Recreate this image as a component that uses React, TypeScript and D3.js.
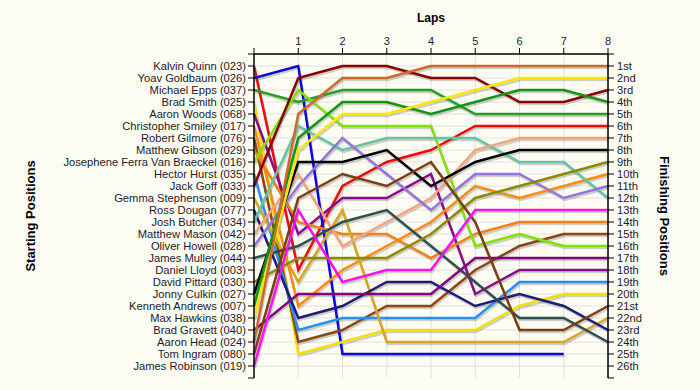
import React from "react";
import * as d3 from "d3";

const drivers = [
  "Kalvin Quinn (023)", "Yoav Goldbaum (026)", "Michael Epps (037)", "Brad Smith (025)",
  "Aaron Woods (068)", "Christopher Smiley (017)", "Robert Gilmore (076)", "Matthew Gibson (029)",
  "Josephene Ferra Van Braeckel (016)", "Hector Hurst (035)", "Jack Goff (033)", "Gemma Stephenson (009)",
  "Ross Dougan (077)", "Josh Butcher (034)", "Matthew Mason (042)", "Oliver Howell (028)",
  "James Mulley (044)", "Daniel Lloyd (003)", "David Pittard (030)", "Jonny Culkin (027)",
  "Kenneth Andrews (007)", "Max Hawkins (038)", "Brad Gravett (040)", "Aaron Head (024)",
  "Tom Ingram (080)", "James Robinson (019)",
];

const lapLabels = ["1", "2", "3", "4", "5", "6", "7", "8"];

const finishLabels = [
  "1st", "2nd", "3rd", "4th", "5th", "6th", "7th", "8th", "9th", "10th", "11th", "12th", "13th",
  "14th", "15th", "16th", "17th", "18th", "19th", "20th", "21st", "22nd", "23rd", "24th", "25th", "26th",
];

// positions per lap (lap 0 = start)
const kalvinQuinn = [1, 18, 11, 9, 8, 6, 6, 6, 6];
const yoavGoldbaum = [2, 1, 25, 25, 25, 25, 25, 25];
const michaelEpps = [3, 4, 3, 3, 3, 5, 5, 5, 5];
const bradSmith = [4, 25, 24, 23, 23, 23, 21, 20, 20];
const aaronWoods = [5, 15, 12, 12, 10, 20, 18, 18, 18];
const christopherSmiley = [6, 21, 18, 16, 14, 11, 12, 11, 10];
const robertGilmore = [7, 24, 23, 21, 21, 18, 16, 15, 15];
const matthewGibson = [8, 14, 15, 15, 17, 15, 14, 14, 14];
const josephene = [9, 3, 6, 6, 6, 16, 15, 16, 16];
const hectorHurst = [10, 23, 22, 22, 22, 22, 19, 19, 19];
const jackGoff = [11, 2, 1, 1, 2, 2, 4, 4, 3];
const gemmaStephenson = [12, 19, 13, 24, 24, 24, 24, 24, 22];
const rossDougan = [13, 22, 21, 19, 19, 21, 20, 21, 23];
const joshButcher = [14, 6, 8, 7, 7, 7, 9, 9, 12];
const matthewMason = [15, 10, 16, 14, 12, 8, 7, 7, 7];
const oliverHowell = [16, 11, 7, 10, 13, 10, 10, 12, 11];
const jamesMulley = [17, 16, 14, 13, 16, 19, 22, 22, 24];
const danielLloyd = [18];
const davidPittard = [19, 17, 17, 17, 15, 12, 11, 10, 9];
const jonnyCulkin = [20, 9, 9, 8, 11, 9, 8, 8, 8];
const kennethAndrews = [21, 7, 4, 4, 5, 4, 3, 3, 4];
const maxHawkins = [22, 8, 5, 5, 4, 3, 2, 2, 2];
const bradGravett = [23, 20, 20, 20, 20, 17, 17, 17, 17];
const aaronHead = [24, 5, 2, 2, 1, 1, 1, 1, 1];
const tomIngram = [25, 12, 10, 11, 9, 14, 23, 23, 21];
const jamesRobinson = [26, 13, 19, 18, 18, 13, 13, 13, 13];

const series = [
  kalvinQuinn, yoavGoldbaum, michaelEpps, bradSmith, aaronWoods, christopherSmiley, robertGilmore,
  matthewGibson, josephene, hectorHurst, jackGoff, gemmaStephenson, rossDougan, joshButcher,
  matthewMason, oliverHowell, jamesMulley, danielLloyd, davidPittard, jonnyCulkin, kennethAndrews,
  maxHawkins, bradGravett, aaronHead, tomIngram, jamesRobinson,
];

const colors = [
  "#ee0a0a", "#0a0ad8", "#22a022", "#f2e000", "#8a0a8a", "#ff8a10", "#8b4513", "#f08018",
  "#84e000", "#2a8ff0", "#860000", "#d8a520", "#1c1c78", "#62c4a4", "#f7a27e", "#9474dc",
  "#2f4f4f", "#777777", "#8a8a00", "#000000", "#139413", "#ffe600", "#800080", "#cc6a2a",
  "#7a3e10", "#ff10f0",
];

const W = 700;
const H = 390;
const FONT = "'Liberation Sans', Arial, sans-serif";
const TXT = "#1a1a2a";

export default function App() {
  const x = d3.scaleLinear().domain([0, 8]).range([254, 608]);
  const y = d3.scaleLinear().domain([0, 27]).range([54, 378]);
  const line = d3
    .line<number>()
    .x((_, i) => x(i))
    .y((d) => y(d));

  const positions = d3.range(1, 27);
  const laps = d3.range(0, 9);

  return (
    <svg
      width={W}
      height={H}
      style={{ position: "absolute", left: 0, top: 0, background: "#fdfdf4" }}
    >
      <rect x={0} y={0} width={W} height={H} fill="#fdfdf4" />
      {/* grid */}
      {positions.map((p) => (
        <line key={"h" + p} x1={x(0)} x2={x(8)} y1={y(p)} y2={y(p)} stroke="#e2e2dc" strokeWidth={1} />
      ))}
      {laps.slice(1).map((l) => (
        <line key={"v" + l} x1={x(l)} x2={x(l)} y1={y(0)} y2={y(27)} stroke="#e2e2dc" strokeWidth={1} />
      ))}

      {/* shadows */}
      {series.map((s, i) =>
        s.length > 1 ? (
          <path
            key={"s" + i}
            d={line(s) || ""}
            fill="none"
            stroke="#000"
            strokeOpacity={0.18}
            strokeWidth={2.5}
            transform="translate(1,2)"
          />
        ) : null
      )}
      {/* lines */}
      {series.map((s, i) =>
        s.length > 1 ? (
          <path
            key={"l" + i}
            d={line(s) || ""}
            fill="none"
            stroke={colors[i]}
            strokeWidth={2.5}
            strokeLinejoin="miter"
          />
        ) : null
      )}

      {/* top axis */}
      <line x1={x(0)} x2={x(8)} y1={y(0)} y2={y(0)} stroke="#000" strokeWidth={1.5} />
      {laps.map((l) => (
        <line key={"tt" + l} x1={x(l)} x2={x(l)} y1={y(0) - 6} y2={y(0)} stroke="#000" />
      ))}
      {lapLabels.map((t, i) => (
        <text key={"tl" + i} x={x(i + 1)} y={y(0) - 9} textAnchor="middle" fontFamily={FONT} fontSize={11} fill={TXT}>
          {t}
        </text>
      ))}

      {/* left axis */}
      <line x1={x(0)} x2={x(0)} y1={y(0)} y2={y(27)} stroke="#000" strokeWidth={1.5} />
      {d3.range(0, 28).map((p) => (
        <line key={"lt" + p} x1={x(0) - 6} x2={x(0)} y1={y(p)} y2={y(p)} stroke="#000" />
      ))}
      {drivers.map((d, i) => (
        <text key={"ln" + i} x={x(0) - 8} y={y(i + 1)} dy="0.35em" textAnchor="end" fontFamily={FONT} fontSize={11.2} fill={TXT}>
          {d}
        </text>
      ))}

      {/* right axis */}
      <line x1={x(8)} x2={x(8)} y1={y(0)} y2={y(27)} stroke="#000" strokeWidth={1.5} />
      {d3.range(0, 28).map((p) => (
        <line key={"rt" + p} x1={x(8)} x2={x(8) + 6} y1={y(p)} y2={y(p)} stroke="#000" />
      ))}
      {finishLabels.map((d, i) => (
        <text key={"rn" + i} x={x(8) + 9} y={y(i + 1)} dy="0.35em" textAnchor="start" fontFamily={FONT} fontSize={11.2} fill={TXT}>
          {d}
        </text>
      ))}

      {/* titles */}
      <text x={431} y={22} textAnchor="middle" fontFamily={FONT} fontSize={12} fontWeight="bold" fill="#000">
        Laps
      </text>
      <text
        transform={`translate(35,${y(13.5)}) rotate(-90)`}
        textAnchor="middle"
        fontFamily={FONT}
        fontSize={13}
        fontWeight="bold"
        fill="#000"
      >
        Starting Positions
      </text>
      <text
        transform={`translate(660,${y(13.5)}) rotate(90)`}
        textAnchor="middle"
        fontFamily={FONT}
        fontSize={13}
        fontWeight="bold"
        fill="#000"
      >
        Finishing Positions
      </text>
    </svg>
  );
}
